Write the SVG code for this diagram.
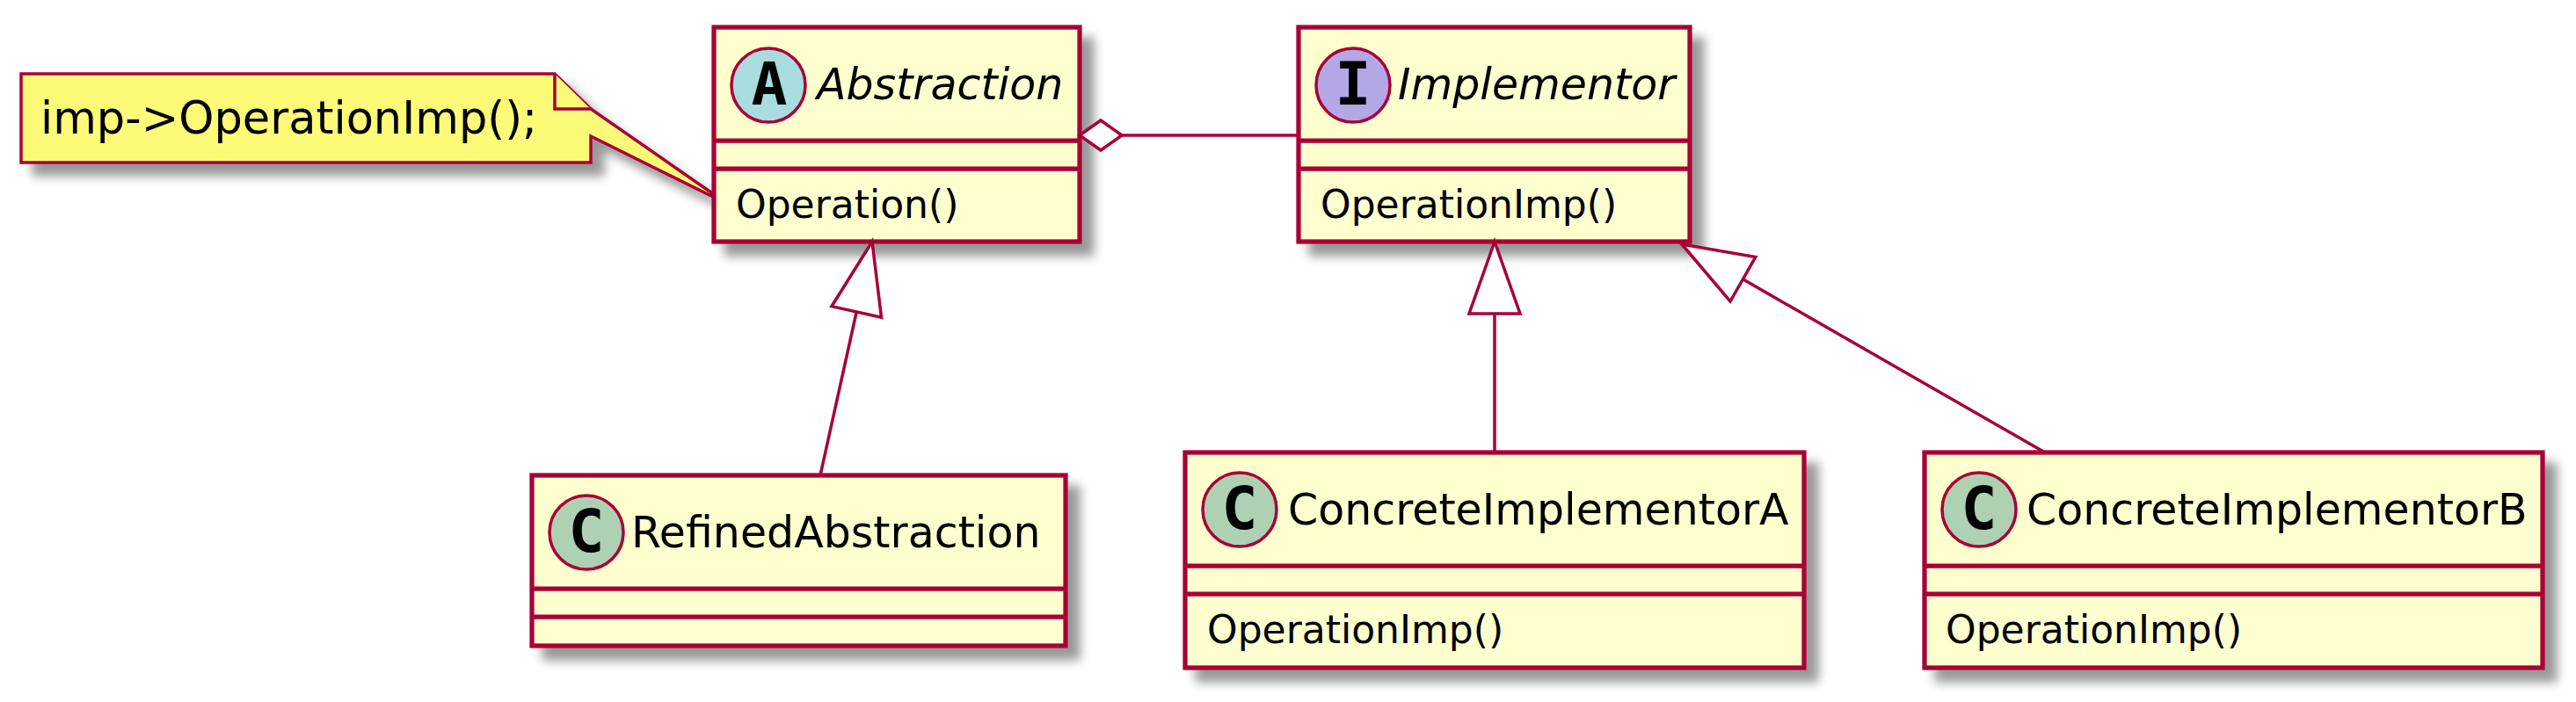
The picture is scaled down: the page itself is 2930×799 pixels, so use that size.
<svg xmlns="http://www.w3.org/2000/svg" width="2930" height="799" viewBox="0 0 2930 799">
<style>
.box{fill:#FEFECE;stroke:#A80036;stroke-width:5.25}
.sep{stroke:#A80036;stroke-width:5.25}
.circ{stroke:#A80036;stroke-width:3.5}
.letter{font-family:"DejaVu Sans Mono","Liberation Mono",monospace;font-weight:bold;font-size:68px;fill:#000;text-anchor:middle}
.name{font-family:"DejaVu Sans","Liberation Sans",sans-serif;font-size:49px;fill:#000}
.abs{font-style:italic}
.member{font-family:"DejaVu Sans","Liberation Sans",sans-serif;font-size:44px;fill:#000}
.note{fill:#FBFB77;stroke:#A80036;stroke-width:3.5}
.notetext{font-family:"DejaVu Sans","Liberation Sans",sans-serif;font-size:51px;fill:#000}
.conn{stroke:#A80036;stroke-width:3.5;fill:none}
.head{stroke:#A80036;stroke-width:3.5;fill:#FFFFFF}
</style>
<defs>
<filter id="sh" x="-1" y="-1" width="300%" height="300%">
<feGaussianBlur in="SourceAlpha" stdDeviation="6" result="b"/>
<feColorMatrix in="b" type="matrix" values="0 0 0 0 0 0 0 0 0 0 0 0 0 0 0 0 0 0 .4 0" result="b2"/>
<feOffset in="b2" dx="14" dy="14" result="b3"/>
<feBlend in="SourceGraphic" in2="b3" mode="normal"/>
</filter>
</defs>
<rect width="2930" height="799" fill="#FFFFFF"/>

<g id="note">
<polygon class="note" filter="url(#sh)" points="24,84 631,84 672,124 672,124 829,233 672,155 672,185 24,185"/>
<polyline class="note" points="631,84 631,124 672,124" fill="none"/>
<text class="notetext" x="46" y="152">imp-&gt;OperationImp();</text>
</g>

<g id="Abstraction">
<rect class="box" filter="url(#sh)" x="812" y="31" width="416" height="244"/>
<circle class="circ" cx="874" cy="97" r="42" fill="#A9DCDF"/>
<text class="letter" x="875" y="119">A</text>
<text class="name abs" x="929" y="113">Abstraction</text>
<line class="sep" x1="812" y1="160" x2="1228" y2="160"/>
<line class="sep" x1="812" y1="192" x2="1228" y2="192"/>
<text class="member" x="837" y="248">Operation()</text>
</g>

<g id="Implementor">
<rect class="box" filter="url(#sh)" x="1477" y="31" width="445" height="244"/>
<circle class="circ" cx="1539" cy="97" r="42" fill="#B4A7E5"/>
<text class="letter" x="1539" y="119">I</text>
<text class="name abs" x="1590" y="113">Implementor</text>
<line class="sep" x1="1477" y1="160" x2="1922" y2="160"/>
<line class="sep" x1="1477" y1="192" x2="1922" y2="192"/>
<text class="member" x="1502" y="248">OperationImp()</text>
</g>

<g id="RefinedAbstraction">
<rect class="box" filter="url(#sh)" x="605" y="541" width="607" height="194"/>
<circle class="circ" cx="667" cy="606" r="42" fill="#ADD1B2"/>
<text class="letter" x="667" y="628">C</text>
<text class="name" x="718" y="623">RefinedAbstraction</text>
<line class="sep" x1="605" y1="670" x2="1212" y2="670"/>
<line class="sep" x1="605" y1="702" x2="1212" y2="702"/>
</g>

<g id="ConcreteImplementorA">
<rect class="box" filter="url(#sh)" x="1348" y="515" width="704" height="245"/>
<circle class="circ" cx="1410" cy="580" r="42" fill="#ADD1B2"/>
<text class="letter" x="1410" y="602">C</text>
<text class="name" x="1465" y="597">ConcreteImplementorA</text>
<line class="sep" x1="1348" y1="644" x2="2052" y2="644"/>
<line class="sep" x1="1348" y1="676" x2="2052" y2="676"/>
<text class="member" x="1373" y="732">OperationImp()</text>
</g>

<g id="ConcreteImplementorB">
<rect class="box" filter="url(#sh)" x="2189" y="515" width="703" height="245"/>
<circle class="circ" cx="2251" cy="580" r="42" fill="#ADD1B2"/>
<text class="letter" x="2251" y="602">C</text>
<text class="name" x="2305" y="597">ConcreteImplementorB</text>
<line class="sep" x1="2189" y1="644" x2="2892" y2="644"/>
<line class="sep" x1="2189" y1="676" x2="2892" y2="676"/>
<text class="member" x="2213" y="732">OperationImp()</text>
</g>

<g id="connectors">
<line class="conn" x1="1276" y1="154" x2="1477" y2="154"/>
<polygon class="head" points="1228,154 1252,137 1276,154 1252,171"/>
<line class="conn" x1="933" y1="541" x2="974.2" y2="355"/>
<polygon class="head" points="992,275 945.9,348.7 1002.5,361.3"/>
<line class="conn" x1="1700" y1="515" x2="1700" y2="357"/>
<polygon class="head" points="1700,275 1671,357 1729,357"/>
<line class="conn" x1="2326" y1="515" x2="1982.4" y2="317.8"/>
<polygon class="head" points="1913,278 1968,343 1996.8,292.6"/>
</g>
</svg>
